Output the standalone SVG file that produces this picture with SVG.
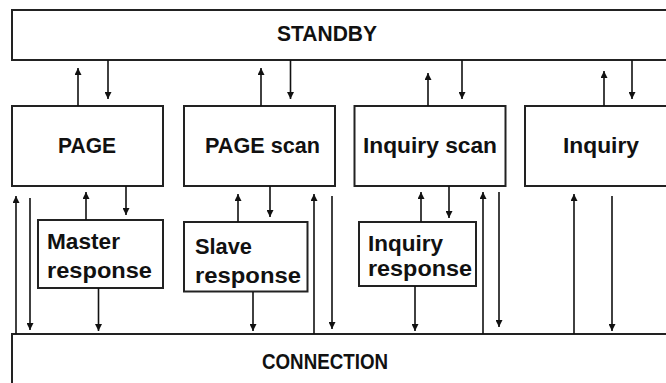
<svg xmlns="http://www.w3.org/2000/svg" width="666" height="383" viewBox="0 0 666 383">
<style>
.box{fill:#fff;stroke:#222;stroke-width:2}
.lbl{font-family:"Liberation Sans",Arial,sans-serif;font-weight:bold;fill:#111}
.big{font-size:22px}
.cond{font-size:22px}
.c{fill:none;stroke:#111;stroke-width:1.6}
</style>
<defs>
<marker id="ah" viewBox="0 0 10 10" refX="10" refY="5" markerUnits="userSpaceOnUse" markerWidth="9" markerHeight="7" orient="auto">
<path d="M0,0 L10,5 L0,10 z" fill="#111"/>
</marker>
</defs>
<rect width="666" height="383" fill="#fff"/>
<g id="standby">
<rect class="box" x="12" y="10" width="700" height="50"/>
<text class="lbl cond" x="277" y="41" textLength="100" lengthAdjust="spacingAndGlyphs">STANDBY</text>
</g>
<g id="page">
<rect class="box" x="12" y="106" width="151" height="80"/>
<text class="lbl big" x="58" y="153" textLength="58" lengthAdjust="spacingAndGlyphs">PAGE</text>
</g>
<g id="pagescan">
<rect class="box" x="184" y="106" width="151" height="80"/>
<text class="lbl big" x="205" y="153" textLength="115" lengthAdjust="spacingAndGlyphs">PAGE scan</text>
</g>
<g id="inquiryscan">
<rect class="box" x="354.5" y="106" width="151" height="80"/>
<text class="lbl big" x="363" y="153" textLength="134" lengthAdjust="spacingAndGlyphs">Inquiry scan</text>
</g>
<g id="inquiry">
<rect class="box" x="525" y="106" width="160" height="80"/>
<text class="lbl big" x="563" y="153" textLength="76" lengthAdjust="spacingAndGlyphs">Inquiry</text>
</g>
<g id="masterresponse">
<rect class="box" x="38" y="220" width="125" height="68"/>
<text class="lbl big" x="47" y="249" textLength="73" lengthAdjust="spacingAndGlyphs">Master</text>
<text class="lbl big" x="47" y="278" textLength="105" lengthAdjust="spacingAndGlyphs">response</text>
</g>
<g id="slaveresponse">
<rect class="box" x="184" y="222" width="123.5" height="69.5"/>
<text class="lbl big" x="195" y="254" textLength="57" lengthAdjust="spacingAndGlyphs">Slave</text>
<text class="lbl big" x="195" y="283" textLength="106" lengthAdjust="spacingAndGlyphs">response</text>
</g>
<g id="inquiryresponse">
<rect class="box" x="359" y="222" width="117" height="64"/>
<text class="lbl big" x="368" y="251" textLength="75" lengthAdjust="spacingAndGlyphs">Inquiry</text>
<text class="lbl big" x="368" y="276" textLength="104" lengthAdjust="spacingAndGlyphs">response</text>
</g>
<g id="connection">
<rect class="box" x="12" y="334" width="700" height="100"/>
<text class="lbl cond" x="262" y="369" textLength="126" lengthAdjust="spacingAndGlyphs">CONNECTION</text>
</g>
<g id="connectors">
<line class="c" x1="78" y1="106" x2="78" y2="68" marker-end="url(#ah)"/>
<line class="c" x1="108" y1="60" x2="108" y2="99" marker-end="url(#ah)"/>
<line class="c" x1="261" y1="106" x2="261" y2="68" marker-end="url(#ah)"/>
<line class="c" x1="290.5" y1="60" x2="290.5" y2="99" marker-end="url(#ah)"/>
<line class="c" x1="428" y1="106" x2="428" y2="73" marker-end="url(#ah)"/>
<line class="c" x1="462" y1="60" x2="462" y2="99" marker-end="url(#ah)"/>
<line class="c" x1="604" y1="106" x2="604" y2="71" marker-end="url(#ah)"/>
<line class="c" x1="632" y1="60" x2="632" y2="99" marker-end="url(#ah)"/>
<line class="c" x1="86" y1="220" x2="86" y2="192" marker-end="url(#ah)"/>
<line class="c" x1="126" y1="186" x2="126" y2="215" marker-end="url(#ah)"/>
<line class="c" x1="238" y1="222" x2="238" y2="194" marker-end="url(#ah)"/>
<line class="c" x1="270" y1="186" x2="270" y2="217" marker-end="url(#ah)"/>
<line class="c" x1="421" y1="222" x2="421" y2="192" marker-end="url(#ah)"/>
<line class="c" x1="449" y1="186" x2="449" y2="218" marker-end="url(#ah)"/>
<line class="c" x1="98.5" y1="288" x2="98.5" y2="331" marker-end="url(#ah)"/>
<line class="c" x1="253" y1="292" x2="253" y2="331" marker-end="url(#ah)"/>
<line class="c" x1="415" y1="286" x2="415" y2="331" marker-end="url(#ah)"/>
<line class="c" x1="16" y1="334" x2="16" y2="196" marker-end="url(#ah)"/>
<line class="c" x1="30" y1="198" x2="30" y2="330" marker-end="url(#ah)"/>
<line class="c" x1="314" y1="334" x2="314" y2="194" marker-end="url(#ah)"/>
<line class="c" x1="332" y1="196" x2="332" y2="329" marker-end="url(#ah)"/>
<line class="c" x1="483" y1="334" x2="483" y2="192" marker-end="url(#ah)"/>
<line class="c" x1="499" y1="192" x2="499" y2="327" marker-end="url(#ah)"/>
<line class="c" x1="574" y1="334" x2="574" y2="194" marker-end="url(#ah)"/>
<line class="c" x1="612" y1="196" x2="612" y2="331" marker-end="url(#ah)"/>
</g>
</svg>
